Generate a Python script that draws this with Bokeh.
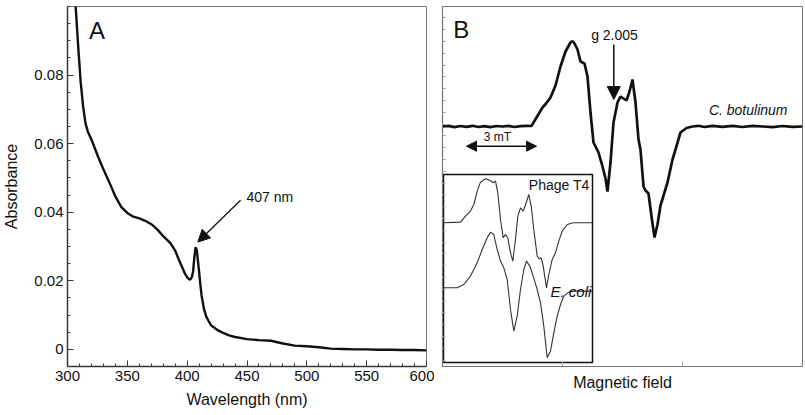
import numpy as np
from bokeh.plotting import figure
from bokeh.layouts import row
from bokeh.models import Range1d, FixedTicker, Arrow, NormalHead, Label
from bokeh.embed import file_html
from bokeh.resources import INLINE

FONT = "Liberation Sans"

# ---------------- Panel A: absorbance spectrum ----------------
wavelength = [305, 307, 309, 311, 313, 315, 317, 320, 323, 326, 330, 335, 340, 345, 350,
              355, 360, 365, 370, 375, 380, 383, 386, 390, 393, 396, 398, 400, 402, 403,
              404, 405, 406, 407, 408, 409, 410, 411, 412, 414, 416, 418, 420, 425, 430,
              435, 440, 450, 460, 470, 480, 490, 500, 510, 520, 530, 540, 550, 560, 570,
              580, 590, 600]
absorbance = [0.108, 0.099, 0.088, 0.078, 0.071, 0.066, 0.0635, 0.0612, 0.0585, 0.0558,
              0.0525, 0.0487, 0.0446, 0.0415, 0.0398, 0.0387, 0.0382, 0.0375, 0.0365,
              0.0350, 0.0330, 0.0320, 0.0310, 0.0288, 0.0262, 0.0238, 0.0222, 0.0210,
              0.0203, 0.0205, 0.0212, 0.0228, 0.0268, 0.0298, 0.0290, 0.0258, 0.0225,
              0.0190, 0.0158, 0.0118, 0.0095, 0.0082, 0.0070, 0.0057, 0.0048, 0.0041,
              0.0036, 0.0030, 0.0027, 0.0025, 0.0017, 0.0011, 0.0009, 0.0006, 0.0002,
              0.0001, 0.0, 0.0, -0.0001, -0.0001, -0.0002, -0.0002, -0.0003]
a_xticks = [300, 350, 400, 450, 500, 550, 600]
a_xminor = list(range(300, 601, 10))
a_yticks = [0, 0.02, 0.04, 0.06, 0.08]
a_ytick_labels = ["0", "0.02", "0.04", "0.06", "0.08"]
a_yminor = [round(-0.005 + 0.005 * i, 3) for i in range(22)]

# ---------------- Panel B: EPR spectra (arbitrary units) ----------------
field_b = [0, 6, 12, 18, 24, 30, 36, 42, 48, 54, 60, 66, 72, 78, 84, 89, 94, 100, 104,
           108, 113, 118, 123, 128, 130, 132, 135, 138, 140, 142, 145, 148, 151, 154,
           156, 160, 163, 165, 168, 171, 175, 178, 181, 184, 187, 190, 193, 196, 198,
           201, 203, 206, 209, 212, 215, 218, 225, 230, 233, 238, 244, 250, 256, 262,
           270, 280, 290, 300, 310, 320, 330, 340, 350, 360]
signal_botulinum = [0, 0.6, -0.6, 0.5, -0.4, 0.7, -0.5, 0.4, -0.6, 0.5, 0, 0.6, -0.5,
                    0.4, 0.7, 0.5, 9, 19, 23.5, 29, 41, 60, 75, 84, 85.5, 83, 77, 65, 64,
                    63, 50, 14, -16, -22, -26, -40, -52, -65, -36, 4, 24, 30, 28, 26,
                    35, 47, 24, -13, -23, -60, -64, -67, -90, -111, -98, -79, -56, -33,
                    -23, -6, -1.5, 0, 0.7, -0.5, 0.6, -0.4, 0.7, -0.5, 0.6, 0, -0.6,
                    0.5, -0.4, 0]

# inset spectra (local units, each relative to its own baseline)
field_t4 = [0, 17, 22, 27, 30.3, 33.7, 37, 42, 47, 49.7, 52, 54.3, 57, 59.7, 62, 64.3,
            67, 69.3, 72, 74.3, 77, 79.7, 82.7, 85.3, 87.7, 90.3, 93.7, 95.7, 97.7, 99.7,
            103, 105.3, 108.7, 112, 115.3, 118.7, 123.7, 130.3, 148.7]
signal_t4 = [0, 0.7, 6.7, 11.7, 18.3, 31.7, 40.7, 44, 42.3, 40, 41.7, 30, 3.3, -15,
             -11.7, -15, -30, -38.3, -16.7, 6.7, 15, 11.7, 20, 28.3, 16.7, -6.7, -33.3,
             -36, -35, -43.3, -65, -51.7, -36.7, -30, -18.3, -8.3, -1.7, 0, 0]
field_ecoli = [0, 13.7, 20.3, 27, 33.7, 38.7, 43.7, 47, 50.3, 53.7, 57, 60.3, 63.7, 67,
               70.3, 73.7, 77, 80.3, 83, 86.3, 89.7, 93.7, 97, 100.3, 103.7, 107, 110.3,
               113.7, 117, 120.3, 125.3, 130.3, 148.7]
signal_ecoli = [0, 0, 3.3, 11.7, 25, 38.3, 50, 55.7, 53.3, 38.3, 26.7, 20, 8.3, -21.7,
                -43.3, -28.3, -1.7, 18.3, 26.7, 21.7, 11.7, -1.7, -15, -38.3, -70, -63.3,
                -45, -28.3, -16.7, -8.3, -4.3, -3.3, -3.3]

b_xticks = [120, 240]
b_yminor = [round(108.7 - 11.8 * i, 1) for i in range(31)]

# inset placement inside panel B (layout constants)
INSET_LEFT, INSET_RIGHT, INSET_TOP, INSET_BOTTOM = 1, 150, -48, -236
T4_BASE, ECOLI_BASE = -96.3, -161.3

AX_COLOR = "#3a3a3a"
FRAME_COLOR = "#777777"


def style_common(p):
    p.xgrid.visible = False
    p.ygrid.visible = False
    p.outline_line_color = FRAME_COLOR
    p.outline_line_width = 1
    p.background_fill_color = "white"
    p.border_fill_color = "white"
    for ax in (p.xaxis[0], p.yaxis[0]):
        ax.axis_line_color = AX_COLOR
        ax.axis_line_width = 1.5
        ax.major_tick_out = 0
        ax.minor_tick_out = 0
        ax.major_label_text_font = FONT
        ax.major_label_text_font_size = "15px"
        ax.major_label_text_color = "#111111"
        ax.axis_label_text_font = FONT
        ax.axis_label_text_font_size = "16px"
        ax.axis_label_text_font_style = "normal"
        ax.axis_label_text_color = "#111111"


# ---------------- figure A ----------------
pA = figure(width=434, height=415, output_backend="svg", toolbar_location=None,
            x_range=Range1d(300, 600), y_range=Range1d(-0.005, 0.1),
            min_border_left=65, min_border_right=8, min_border_top=6, min_border_bottom=49)
style_common(pA)
pA.line(wavelength, absorbance, line_color="#111111", line_width=2.4)

pA.xaxis.ticker = FixedTicker(ticks=a_xticks, minor_ticks=a_xminor)
pA.yaxis.ticker = FixedTicker(ticks=a_yticks, minor_ticks=a_yminor)
pA.yaxis.major_label_overrides = {t: s for t, s in zip(a_yticks, a_ytick_labels)}
pA.xaxis.axis_label = "Wavelength (nm)"
pA.yaxis.axis_label = "Absorbance"
for ax in (pA.xaxis[0], pA.yaxis[0]):
    ax.major_tick_in = 6
    ax.minor_tick_in = 3
    ax.major_tick_line_color = AX_COLOR
    ax.minor_tick_line_color = AX_COLOR
    ax.major_label_standoff = 4
pA.xaxis.axis_label_standoff = 7
pA.yaxis.axis_label_standoff = 11

pA.add_layout(Label(x=318, y=0.0931, text="A", text_font=FONT, text_font_size="24px",
                    text_color="#111111", text_baseline="alphabetic", text_align="left"))
pA.add_layout(Label(x=449.6, y=0.0445, text="407 nm", text_font=FONT,
                    text_font_size="14px", text_color="#111111",
                    text_baseline="alphabetic", text_align="left"))
pA.add_layout(Arrow(end=NormalHead(size=12, fill_color="#111111", line_color="#111111"),
                    x_start=444.6, y_start=0.0435, x_end=408.9, y_end=0.0313,
                    line_color="#111111", line_width=1.3))

# ---------------- figure B ----------------
pB = figure(width=371, height=415, output_backend="svg", toolbar_location=None,
            x_range=Range1d(0, 360), y_range=Range1d(-240, 120),
            min_border_left=8, min_border_right=3, min_border_top=6, min_border_bottom=49)
style_common(pB)
pB.xaxis.ticker = FixedTicker(ticks=b_xticks, minor_ticks=[])
pB.yaxis.ticker = FixedTicker(ticks=[], minor_ticks=b_yminor)
pB.xaxis.axis_label = "Magnetic field"
pB.xaxis.major_label_text_color = None
pB.xaxis.major_label_standoff = 4
pB.xaxis.axis_label_standoff = 7
pB.xaxis.major_tick_in = 5
pB.xaxis.major_tick_line_color = "#b0b0b0"
pB.yaxis.minor_tick_in = 3
pB.yaxis.minor_tick_line_color = "#a0a0a0"
pB.xaxis.axis_line_color = FRAME_COLOR
pB.yaxis.axis_line_color = FRAME_COLOR
pB.xaxis.axis_line_width = 1.2
pB.yaxis.axis_line_width = 1.2

pB.line(field_b, signal_botulinum, line_color="#111111", line_width=2.7)

# inset
pB.quad(left=[INSET_LEFT], right=[INSET_RIGHT], top=[INSET_TOP], bottom=[INSET_BOTTOM],
        fill_color="white", line_color="#111111", line_width=1.5)
pB.line([INSET_LEFT + u for u in field_t4], [T4_BASE + v for v in signal_t4],
        line_color="#333333", line_width=1.1)
pB.line([INSET_LEFT + u for u in field_ecoli], [ECOLI_BASE + v for v in signal_ecoli],
        line_color="#333333", line_width=1.1)
pB.add_layout(Label(x=147, y=-58, text="Phage T4", text_font=FONT, text_font_size="14px",
                    text_color="#111111", text_baseline="alphabetic", text_align="right"))
pB.add_layout(Label(x=108, y=-165, text="E. coli", text_font=FONT, text_font_size="15px",
                    text_font_style="italic", text_color="#111111",
                    text_baseline="alphabetic", text_align="left"))

# annotations
pB.add_layout(Label(x=10.7, y=97, text="B", text_font=FONT, text_font_size="24px",
                    text_color="#111111", text_baseline="alphabetic", text_align="left"))
pB.add_layout(Label(x=172, y=92, text="g 2.005", text_font=FONT, text_font_size="14px",
                    text_color="#111111", text_baseline="alphabetic", text_align="center"))
pB.add_layout(Arrow(end=NormalHead(size=13, fill_color="#111111", line_color="#111111"),
                    x_start=171.3, y_start=82, x_end=171.3, y_end=27,
                    line_color="#111111", line_width=1.5))
pB.add_layout(Label(x=345, y=17, text="C. botulinum", text_font=FONT,
                    text_font_size="14px", text_font_style="italic", text_color="#111111",
                    text_baseline="alphabetic", text_align="right"))
pB.add_layout(Label(x=55, y=-10, text="3 mT", text_font=FONT, text_font_size="12px",
                    text_color="#111111", text_baseline="alphabetic", text_align="center"))
pB.add_layout(Arrow(start=NormalHead(size=10, fill_color="#111111", line_color="#111111"),
                    end=NormalHead(size=10, fill_color="#111111", line_color="#111111"),
                    x_start=24, y_start=-19.7, x_end=94, y_end=-19.7,
                    line_color="#111111", line_width=1.5))

layout = row(pA, pB)
open("out.html", "w").write(file_html(layout, INLINE))
